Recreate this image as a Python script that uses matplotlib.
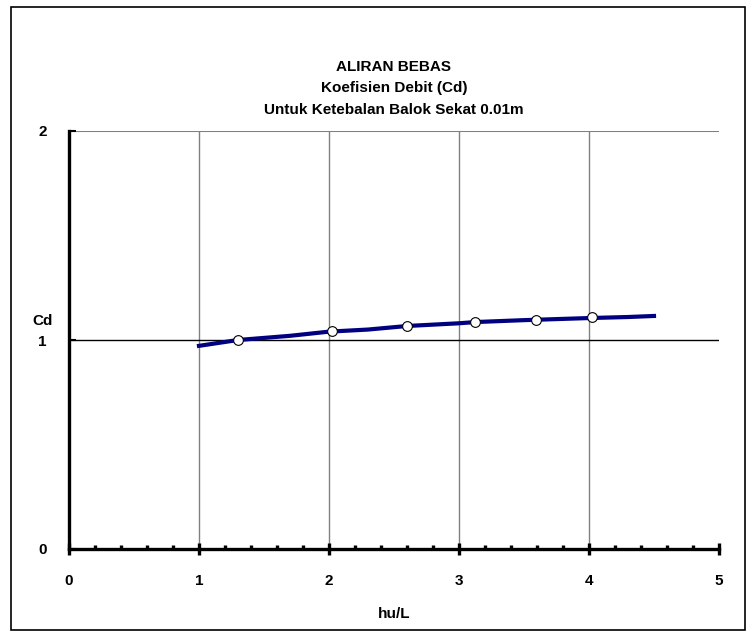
import matplotlib.pyplot as plt
from matplotlib.patches import Rectangle

plt.rcParams['font.family'] = ['Liberation Sans', 'DejaVu Sans']
plt.rcParams['font.weight'] = 'bold'

# fitted curve
line_x = [1.0, 1.3, 1.7, 2.0, 2.3, 2.6, 3.0, 3.13, 3.5, 4.0, 4.3, 4.5]
line_cd = [0.972, 1.0, 1.02, 1.04, 1.05, 1.067, 1.08, 1.086, 1.095, 1.105, 1.11, 1.115]

# measured points
pt_x = [1.30, 2.02, 2.60, 3.12, 3.59, 4.02]
pt_cd = [1.002, 1.043, 1.067, 1.086, 1.096, 1.110]

x_ticks = [0, 1, 2, 3, 4, 5]
y_ticks = [0, 1, 2]


def do_plot():
    fig = plt.figure(figsize=(7.55, 6.37), dpi=100)
    fig.patches.append(Rectangle((11 / 755, 7 / 637), 734 / 755, 623 / 637,
                                 transform=fig.transFigure, fill=False,
                                 edgecolor='black', linewidth=1.2))
    ax = fig.add_axes([69 / 755, 88 / 637, 650 / 755, 418 / 637])
    ax.set_xlim(0, 5)
    ax.set_ylim(0, 2)

    for xv in x_ticks[1:-1]:
        ax.axvline(xv, color='#808080', linewidth=1, zorder=1)
    ax.axhline(1, color='black', linewidth=1, zorder=1)
    ax.axhline(2, color='#808080', linewidth=1.5, zorder=1)

    ax.plot(line_x, line_cd, '-', color='#000080', linewidth=3, zorder=3)
    ax.plot(pt_x, pt_cd, 'o', markerfacecolor='white', markeredgecolor='black',
            markersize=7, markeredgewidth=0.8, zorder=4)

    for s in ['top', 'right']:
        ax.spines[s].set_visible(False)
    for s in ['left', 'bottom']:
        ax.spines[s].set_linewidth(2.4)

    ax.set_xticks(x_ticks)
    ax.set_xticks([i * 0.2 for i in range(26)], minor=True)
    ax.set_yticks(y_ticks)
    ax.tick_params(axis='x', which='major', direction='inout', length=8, width=2.4,
                   labelsize=11, pad=14)
    ax.tick_params(axis='x', which='minor', direction='in', length=3, width=2.4)
    ax.tick_params(axis='y', which='major', direction='in', length=5, width=1.5,
                   labelsize=11, pad=16)

    ax.set_xlabel('hu/L', fontsize=11, fontweight='bold', labelpad=14)
    fig.text(43 / 755, 1 - 321 / 637, 'Cd', ha='center', va='center',
             fontsize=11, fontweight='bold')
    ax.set_title('ALIRAN BEBAS\nKoefisien Debit (Cd)\nUntuk Ketebalan Balok Sekat 0.01m',
                 fontsize=11, fontweight='bold', linespacing=1.65, pad=12.5)

    fig.savefig('out.png', dpi=100)


if __name__ == '__main__':
    do_plot()
